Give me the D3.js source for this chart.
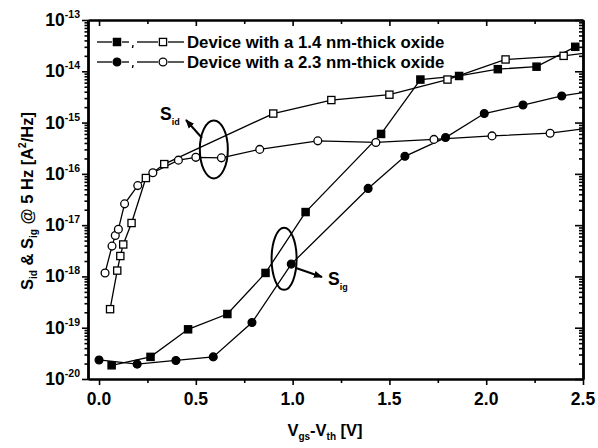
<!DOCTYPE html>
<html>
<head>
<meta charset="utf-8">
<script src="https://cdn.jsdelivr.net/npm/d3@7"></script>
<style>
  body { margin: 0; background: #fff; }
  svg { display: block; }
  text { font-family: "Liberation Sans", Arial, sans-serif; font-weight: bold; fill: #000; }
</style>
</head>
<body>
<svg id="chart" width="598" height="448"></svg>
<script>
// Gate-voltage overdrive (V) for each measured series
const sidThinV  = [0.057, 0.094, 0.11, 0.125, 0.168, 0.242, 0.337, 0.90, 1.20, 1.50, 1.80, 2.10, 2.40, 2.60];
const sidThickV = [0.031, 0.067, 0.084, 0.10, 0.132, 0.20, 0.278, 0.41, 0.50, 0.632, 0.83, 1.13, 1.43, 1.73, 2.03, 2.33, 2.60];
const sigThinV  = [0.065, 0.266, 0.46, 0.663, 0.86, 1.067, 1.457, 1.66, 1.86, 2.06, 2.26, 2.46];
const sigThickV = [0.0, 0.197, 0.397, 0.59, 0.79, 0.993, 1.39, 1.58, 1.79, 1.99, 2.19, 2.39, 2.60];

// Noise spectral densities at 5 Hz (A^2/Hz)
const sidThin  = [2.3e-19, 1.3e-18, 2.5e-18, 4.2e-18, 1.1e-17, 8.3e-17, 1.55e-16, 1.5e-15, 2.75e-15, 3.5e-15, 6.9e-15, 1.7e-14, 2.0e-14, 2.5e-14];
const sidThick = [1.17e-18, 3.9e-18, 6.3e-18, 8.3e-18, 2.6e-17, 5.9e-17, 1.05e-16, 1.85e-16, 2.1e-16, 2.05e-16, 3.0e-16, 4.4e-16, 4.1e-16, 4.7e-16, 5.5e-16, 6.2e-16, 8.5e-16];
const sigThin  = [1.85e-20, 2.7e-20, 9.3e-20, 1.85e-19, 1.17e-18, 1.8e-17, 6.0e-16, 6.9e-15, 8.1e-15, 1.1e-14, 1.23e-14, 3.0e-14];
const sigThick = [2.35e-20, 1.95e-20, 2.3e-20, 2.7e-20, 1.26e-19, 1.74e-18, 5.2e-17, 2.2e-16, 5.1e-16, 1.5e-15, 2.2e-15, 3.3e-15, 4.4e-15];

// Axis ticks
const xTicks = [0.0, 0.5, 1.0, 1.5, 2.0, 2.5];
const xMinorTicks = [0.25, 0.75, 1.25, 1.75, 2.25];
const yExponents = [-20, -19, -18, -17, -16, -15, -14, -13];

const legendLabels = ["Device with a 1.4 nm-thick oxide", "Device with a 2.3 nm-thick oxide"];

const svg = d3.select("#chart");
const L = 88, R = 583, T = 20, B = 379;

const x = d3.scaleLinear().domain([-0.057, 2.5]).range([L, R]);
const y = d3.scaleLog().domain([1e-20, 1e-13]).range([B, T]);

const minorY = [];
yExponents.slice(0, -1).forEach(e => { for (let m = 2; m <= 9; m++) minorY.push(m * Math.pow(10, e)); });
const majorY = yExponents.map(e => Math.pow(10, e));

const defs = svg.append("defs");
defs.append("clipPath").attr("id", "plotClip")
  .append("rect").attr("x", L).attr("y", T).attr("width", R - L).attr("height", B - T);

// Axes
function styleAxis(g, width) {
  g.select(".domain").attr("stroke-width", width).attr("stroke", "#000");
  g.selectAll(".tick line").attr("stroke", "#000").attr("stroke-width", 1.6);
  g.selectAll(".tick text").remove();
}
// bottom: outward ticks
svg.append("g").attr("transform", `translate(0,${B})`)
  .call(d3.axisBottom(x).tickValues(xTicks).tickSize(6).tickSizeOuter(0)).call(g => styleAxis(g, 2.2));
svg.append("g").attr("transform", `translate(0,${B})`)
  .call(d3.axisBottom(x).tickValues(xMinorTicks).tickSize(4).tickSizeOuter(0)).call(g => styleAxis(g, 2.2));
// top: inward ticks
svg.append("g").attr("transform", `translate(0,${T})`)
  .call(d3.axisBottom(x).tickValues(xTicks).tickSize(6).tickSizeOuter(0)).call(g => styleAxis(g, 2.2));
svg.append("g").attr("transform", `translate(0,${T})`)
  .call(d3.axisBottom(x).tickValues(xMinorTicks).tickSize(4).tickSizeOuter(0)).call(g => styleAxis(g, 2.2));
// left: outward ticks
svg.append("g").attr("transform", `translate(${L},0)`)
  .call(d3.axisLeft(y).tickValues(majorY).tickSize(6).tickSizeOuter(0)).call(g => styleAxis(g, 2.4));
svg.append("g").attr("transform", `translate(${L},0)`)
  .call(d3.axisLeft(y).tickValues(minorY).tickSize(3.5).tickSizeOuter(0)).call(g => styleAxis(g, 2.4));
// right: inward ticks
svg.append("g").attr("transform", `translate(${R},0)`)
  .call(d3.axisLeft(y).tickValues(majorY).tickSize(8).tickSizeOuter(0)).call(g => styleAxis(g, 2.4));
svg.append("g").attr("transform", `translate(${R},0)`)
  .call(d3.axisLeft(y).tickValues(minorY).tickSize(4).tickSizeOuter(0)).call(g => styleAxis(g, 2.4));

// Tick labels
svg.append("g").selectAll("text").data(xTicks).join("text")
  .attr("x", d => x(d)).attr("y", B + 26).attr("text-anchor", "middle")
  .attr("font-size", 17.5).text(d => d3.format(".1f")(d));

const yl = svg.append("g").selectAll("text").data(yExponents).join("text")
  .attr("x", 80).attr("y", d => y(Math.pow(10, d)) + 6).attr("text-anchor", "end")
  .attr("font-size", 17.5);
yl.append("tspan").text("10");
yl.append("tspan").attr("font-size", 10.5).attr("dy", -8).text(d => String(d));

// Axis titles
const xt = svg.append("text").attr("x", 325).attr("y", 436).attr("text-anchor", "middle").attr("font-size", 16.5);
xt.append("tspan").text("V");
xt.append("tspan").attr("font-size", 10).attr("dy", 4).text("gs");
xt.append("tspan").attr("dy", -4).text("-V");
xt.append("tspan").attr("font-size", 10).attr("dy", 4).text("th");
xt.append("tspan").attr("dy", -4).text(" [V]");

const yt = svg.append("text").attr("transform", "translate(33,201) rotate(-90)")
  .attr("text-anchor", "middle").attr("font-size", 16.5);
yt.append("tspan").text("S");
yt.append("tspan").attr("font-size", 10).attr("dy", 4).text("id");
yt.append("tspan").attr("dy", -4).text(" & S");
yt.append("tspan").attr("font-size", 10).attr("dy", 4).text("ig");
yt.append("tspan").attr("dy", -4).text(" @ 5 Hz [A");
yt.append("tspan").attr("font-size", 10).attr("dy", -7).text("2");
yt.append("tspan").attr("dy", 7).text("/Hz]");

// Series
const series = [
  { v: sigThinV,  s: sigThin,  shape: "square", fill: "#000" },
  { v: sidThinV,  s: sidThin,  shape: "square", fill: "#fff" },
  { v: sigThickV, s: sigThick, shape: "circle", fill: "#000" },
  { v: sidThickV, s: sidThick, shape: "circle", fill: "#fff" }
];
const line = d3.line().x(d => x(d[0])).y(d => y(d[1]));
const plot = svg.append("g").attr("clip-path", "url(#plotClip)");

function drawMarker(g, shape, fill, cx, cy) {
  if (shape === "square") {
    g.append("rect").attr("x", cx - 3.6).attr("y", cy - 3.6).attr("width", 7.2).attr("height", 7.2)
      .attr("fill", fill).attr("stroke", "#000").attr("stroke-width", 1.3);
  } else {
    g.append("circle").attr("cx", cx).attr("cy", cy).attr("r", 3.9)
      .attr("fill", fill).attr("stroke", "#000").attr("stroke-width", 1.3);
  }
}

series.forEach(sr => {
  const pts = sr.v.map((v, i) => [v, sr.s[i]]);
  plot.append("path").datum(pts).attr("d", line)
    .attr("fill", "none").attr("stroke", "#000").attr("stroke-width", 1.3);
});
series.forEach(sr => {
  const g = plot.append("g");
  sr.v.forEach((v, i) => drawMarker(g, sr.shape, sr.fill, x(v), y(sr.s[i])));
});

// Legend
const legendRows = [
  { y: 42, shape: "square" },
  { y: 62, shape: "circle" }
];
legendRows.forEach((row, i) => {
  const g = svg.append("g");
  [[97, 112], [122, 129], [137, 158], [168, 184]].forEach(([a, b]) =>
    g.append("line").attr("x1", a).attr("x2", b).attr("y1", row.y).attr("y2", row.y)
      .attr("stroke", "#000").attr("stroke-width", 1.3));
  g.append("line").attr("x1", 133).attr("x2", 132.5).attr("y1", row.y + 3).attr("y2", row.y + 6)
    .attr("stroke", "#000").attr("stroke-width", 1.4);
  drawMarker(g, row.shape, "#000", 117, row.y);
  drawMarker(g, row.shape, "#fff", 163, row.y);
  g.append("text").attr("x", 187).attr("y", row.y + 6).attr("font-size", 16.8).text(legendLabels[i]);
});

// Annotations: ellipses grouping the two noise families, with arrows to their labels
const annotations = [
  { v: 0.593, s: 3.0e-16, rx: 14, ry: 29, from: [202, 138], to: [186, 120], label: "S", sub: "id", lx: 160, ly: 120 },
  { v: 0.956, s: 2.2e-18, rx: 12.5, ry: 31, from: [296, 268], to: [322, 277], label: "S", sub: "ig", lx: 328, ly: 285 }
];
defs.append("marker").attr("id", "arrowHead").attr("viewBox", "0 0 10 10")
  .attr("refX", 9).attr("refY", 5).attr("markerWidth", 4.5).attr("markerHeight", 4.5).attr("orient", "auto")
  .attr("markerUnits", "strokeWidth")
  .append("path").attr("d", "M0,1 L10,5 L0,9 Z").attr("fill", "#000");
annotations.forEach(a => {
  svg.append("ellipse").attr("cx", x(a.v)).attr("cy", y(a.s)).attr("rx", a.rx).attr("ry", a.ry)
    .attr("fill", "none").attr("stroke", "#000").attr("stroke-width", 2);
  svg.append("line").attr("x1", a.from[0]).attr("y1", a.from[1]).attr("x2", a.to[0]).attr("y2", a.to[1])
    .attr("stroke", "#000").attr("stroke-width", 2).attr("marker-end", "url(#arrowHead)");
  const t = svg.append("text").attr("x", a.lx).attr("y", a.ly).attr("font-size", 17.5);
  t.append("tspan").text(a.label);
  t.append("tspan").attr("font-size", 9).attr("dy", 5).text(a.sub);
});
</script>
</body>
</html>
